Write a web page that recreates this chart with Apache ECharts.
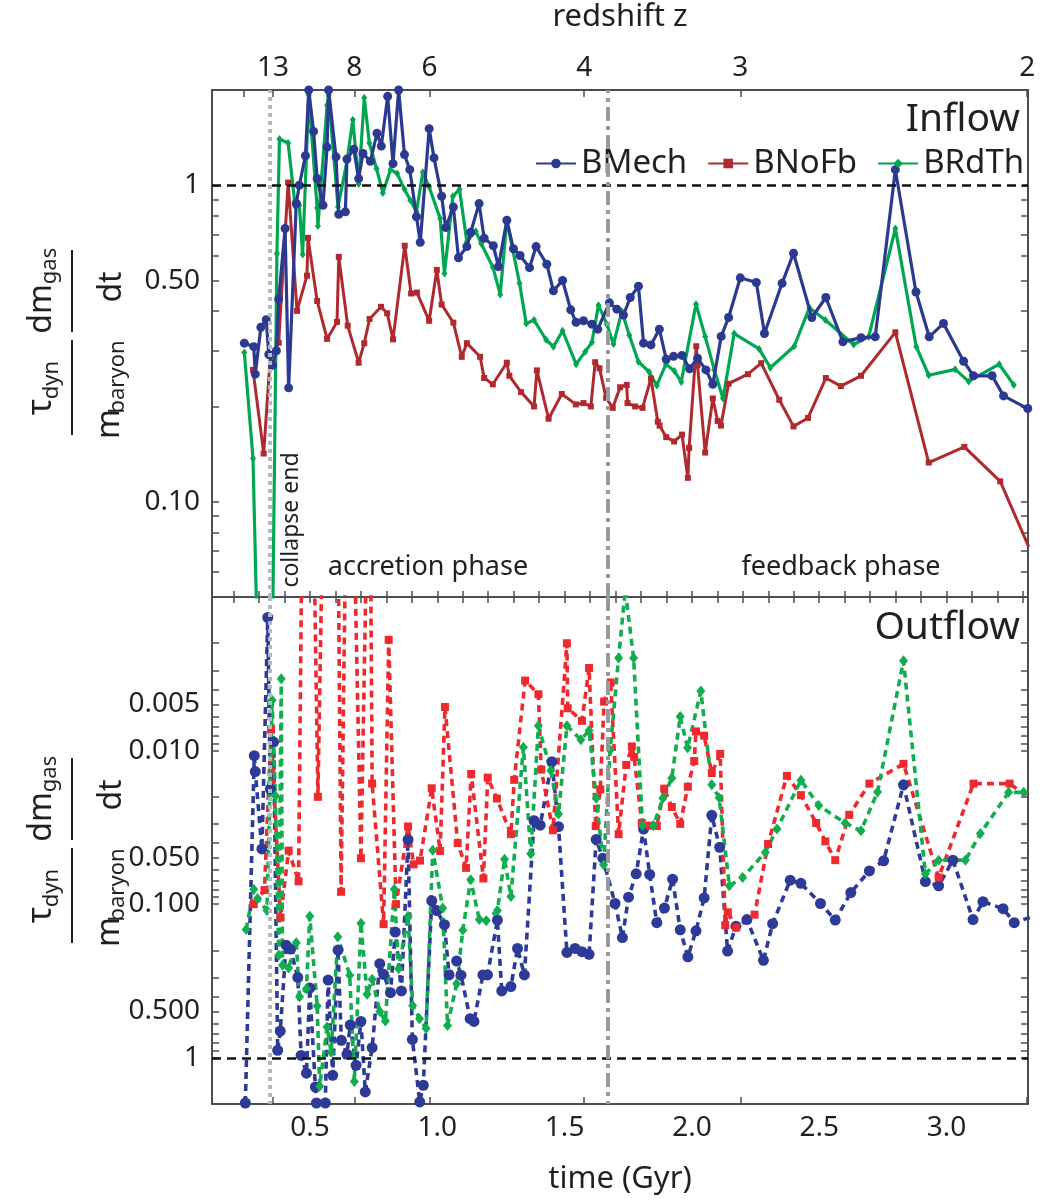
<!DOCTYPE html>
<html>
<head>
<meta charset="utf-8">
<script src="https://cdn.jsdelivr.net/npm/echarts@6/dist/echarts.min.js"></script>
<style>
html, body { margin: 0; padding: 0; background: #ffffff; }
#chart { width: 1046px; height: 1200px; }
</style>
</head>
<body>
<div id="chart"></div>
<script>
// ---- data: [time (Gyr), tau_dyn/m_baryon * dm_gas/dt] ----
const seriesNames = ['BMech', 'BNoFb', 'BRdTh'];

const inflowMech = [
  [0.242,0.317],[0.279,0.309],[0.285,0.253],[0.307,0.356],[0.328,0.376],[0.338,0.292],[0.353,0.270],[0.368,0.300],
  [0.377,0.437],[0.402,0.73],[0.416,0.229],[0.446,0.876],[0.458,1.0],[0.482,1.24],[0.495,2.0],[0.514,1.48],
  [0.528,1.05],[0.551,0.865],[0.567,1.32],[0.573,2.0],[0.602,1.23],[0.613,0.81],[0.639,0.824],[0.645,1.21],
  [0.672,1.30],[0.691,1.05],[0.708,1.26],[0.737,1.19],[0.763,1.46],[0.780,1.33],[0.805,1.91],[0.826,1.17],
  [0.848,2.0],[0.871,1.25],[0.892,1.12],[0.918,0.795],[0.933,0.66],[0.968,1.51],[0.987,1.22],[1.017,0.923],
  [1.033,0.735],[1.063,0.854],[1.083,0.59],[1.116,0.64],[1.131,0.71],[1.164,0.875],[1.184,0.68],[1.220,0.644],
  [1.240,0.553],[1.273,0.775],[1.299,0.63],[1.325,0.60],[1.362,0.549],[1.388,0.64],[1.430,0.563],[1.456,0.464],
  [1.492,0.50],[1.524,0.404],[1.545,0.369],[1.574,0.373],[1.607,0.364],[1.630,0.351],[1.676,0.425],[1.705,0.406],
  [1.731,0.389],[1.758,0.442],[1.790,0.48],[1.810,0.317],[1.839,0.313],[1.872,0.351],[1.899,0.282],[1.928,0.288],
  [1.961,0.29],[1.991,0.263],[2.022,0.284],[2.055,0.261],[2.082,0.235],[2.115,0.333],[2.144,0.382],[2.190,0.51],
  [2.253,0.493],[2.285,0.34],[2.354,0.49],[2.399,0.61],[2.471,0.382],[2.526,0.442],[2.593,0.32],[2.664,0.33],
  [2.720,0.332],[2.799,1.12],[2.880,0.46],[2.932,0.332],[2.988,0.366],[3.067,0.278],[3.106,0.25],[3.179,0.25],
  [3.224,0.216],[3.319,0.197]
];

const inflowNoFb = [
  [0.276,0.261],[0.318,0.142],[0.344,0.289],[0.377,0.318],[0.414,1.02],[0.449,0.401],[0.488,0.518],[0.492,0.682],
  [0.528,0.431],[0.567,0.327],[0.606,0.37],[0.613,0.594],[0.648,0.36],[0.691,0.275],[0.713,0.317],[0.734,0.378],
  [0.779,0.413],[0.803,0.394],[0.826,0.326],[0.872,0.644],[0.897,0.455],[0.920,0.458],[0.968,0.373],[0.998,0.54],
  [1.017,0.42],[1.063,0.368],[1.096,0.287],[1.116,0.317],[1.168,0.287],[1.184,0.246],[1.218,0.235],[1.273,0.275],
  [1.283,0.25],[1.329,0.222],[1.380,0.20],[1.391,0.26],[1.437,0.183],[1.489,0.219],[1.544,0.203],[1.574,0.205],
  [1.603,0.20],[1.620,0.276],[1.637,0.264],[1.663,0.213],[1.689,0.198],[1.718,0.23],[1.744,0.234],[1.747,0.205],
  [1.777,0.20],[1.806,0.198],[1.839,0.245],[1.866,0.179],[1.873,0.174],[1.899,0.16],[1.930,0.155],[1.961,0.163],
  [1.984,0.119],[1.989,0.148],[2.017,0.31],[2.022,0.27],[2.052,0.143],[2.082,0.212],[2.101,0.18],[2.114,0.174],
  [2.144,0.236],[2.220,0.253],[2.272,0.274],[2.343,0.21],[2.399,0.173],[2.456,0.184],[2.526,0.246],[2.585,0.232],
  [2.664,0.25],[2.799,0.343],[2.930,0.133],[3.070,0.149],[3.211,0.116],[3.323,0.072]
];

const inflowRdTh = [
  [0.242,0.296],[0.276,0.137],[0.333,0.0016],[0.370,0.609],[0.380,1.40],[0.414,1.36],[0.442,0.857],[0.458,0.865],
  [0.471,0.604],[0.495,1.93],[0.528,0.848],[0.531,0.744],[0.567,1.79],[0.573,1.92],[0.610,0.854],[0.645,1.19],
  [0.668,1.61],[0.691,1.01],[0.713,1.89],[0.733,1.36],[0.761,1.13],[0.786,0.946],[0.816,1.12],[0.842,1.09],
  [0.871,0.971],[0.894,0.897],[0.918,0.824],[0.943,1.10],[0.968,0.988],[1.011,0.785],[1.028,0.526],[1.061,0.923],
  [1.087,0.971],[1.116,0.663],[1.151,0.716],[1.172,0.655],[1.218,0.552],[1.247,0.452],[1.273,0.775],[1.323,0.49],
  [1.349,0.366],[1.380,0.375],[1.427,0.325],[1.456,0.309],[1.492,0.347],[1.545,0.272],[1.581,0.298],[1.607,0.319],
  [1.633,0.418],[1.666,0.364],[1.692,0.315],[1.725,0.40],[1.754,0.336],[1.790,0.277],[1.832,0.257],[1.862,0.233],
  [1.898,0.272],[1.931,0.259],[1.958,0.239],[2.016,0.421],[2.052,0.333],[2.088,0.261],[2.122,0.212],[2.166,0.34],
  [2.264,0.304],[2.308,0.265],[2.402,0.31],[2.461,0.41],[2.524,0.375],[2.635,0.314],[2.694,0.332],[2.799,0.73],
  [2.881,0.309],[2.930,0.251],[3.034,0.262],[3.087,0.24],[3.207,0.272],[3.264,0.234]
];

const outflowMech = [
  [0.246,1.97],[0.281,0.0108],[0.285,0.0137],[0.311,0.0437],[0.334,0.00136],[0.344,0.0178],[0.357,0.0088],[0.373,0.895],
  [0.383,0.67],[0.406,0.185],[0.423,0.196],[0.452,0.30],[0.465,0.965],[0.486,1.26],[0.499,0.352],[0.521,1.55],
  [0.525,1.97],[0.560,1.97],[0.571,0.312],[0.589,1.30],[0.610,0.199],[0.623,0.77],[0.645,0.95],[0.658,0.612],
  [0.681,1.12],[0.700,0.58],[0.717,1.67],[0.744,0.86],[0.774,0.244],[0.789,0.286],[0.816,0.377],[0.835,0.152],
  [0.859,0.367],[0.885,0.038],[0.902,0.76],[0.931,1.94],[0.945,1.51],[0.978,0.095],[0.998,0.11],[1.028,0.136],
  [1.046,0.289],[1.076,0.234],[1.093,0.29],[1.129,0.557],[1.144,0.58],[1.179,0.289],[1.197,0.289],[1.236,0.127],
  [1.253,0.367],[1.289,0.344],[1.315,0.194],[1.342,0.289],[1.380,0.0286],[1.404,0.0306],[1.450,0.0118],[1.476,0.0313],
  [1.509,0.206],[1.541,0.194],[1.568,0.204],[1.596,0.212],[1.624,0.0379],[1.650,0.0502],[1.698,0.099],[1.727,0.165],
  [1.751,0.09],[1.781,0.0634],[1.810,0.0324],[1.834,0.064],[1.862,0.132],[1.892,0.106],[1.924,0.0687],[1.954,0.147],
  [1.984,0.22],[2.016,0.149],[2.048,0.091],[2.078,0.0264],[2.109,0.0426],[2.140,0.202],[2.173,0.139],[2.216,0.126],
  [2.281,0.232],[2.317,0.134],[2.386,0.0698],[2.428,0.0732],[2.505,0.099],[2.563,0.127],[2.624,0.084],[2.697,0.0607],
  [2.753,0.0522],[2.831,0.0167],[2.917,0.0712],[2.969,0.076],[3.025,0.0517],[3.104,0.126],[3.143,0.0963],[3.222,0.107],
  [3.266,0.132],[3.327,0.122]
];

const outflowNoFb = [
  [0.279,0.1],[0.321,0.081],[0.347,0.0073],[0.384,0.122],[0.416,0.0448],[0.455,0.071],[0.469,0.0003],[0.514,0.0003],
  [0.531,0.02],[0.550,0.0003],[0.610,0.0003],[0.622,0.083],[0.641,0.0003],[0.672,0.0003],[0.700,0.0502],[0.724,0.0003],
  [0.737,0.0003],[0.744,0.0164],[0.789,0.135],[0.809,0.0019],[0.838,0.1],[0.885,0.0312],[0.907,0.055],[0.932,0.052],
  [0.978,0.0176],[1.011,0.045],[1.030,0.0052],[1.080,0.04],[1.113,0.058],[1.133,0.0142],[1.181,0.068],[1.198,0.015],
  [1.234,0.0205],[1.289,0.035],[1.302,0.0155],[1.345,0.0035],[1.397,0.0043],[1.408,0.0133],[1.454,0.033],[1.509,0.002],
  [1.512,0.0053],[1.568,0.0064],[1.596,0.0029],[1.622,0.031],[1.640,0.0179],[1.655,0.0048],[1.681,0.0036],[1.712,0.035],
  [1.742,0.0124],[1.764,0.0094],[1.773,0.011],[1.803,0.0296],[1.834,0.0308],[1.862,0.031],[1.891,0.0177],[1.921,0.0233],
  [1.954,0.030],[1.984,0.0172],[2.009,0.0117],[2.016,0.0075],[2.048,0.008],[2.078,0.014],[2.111,0.0105],[2.131,0.137],
  [2.141,0.113],[2.174,0.142],[2.246,0.117],[2.299,0.0406],[2.373,0.0146],[2.428,0.0195],[2.488,0.0296],[2.524,0.039],
  [2.563,0.0517],[2.618,0.0262],[2.697,0.0164],[2.831,0.0122],[2.969,0.067],[3.106,0.0164],[3.248,0.0164],[3.323,0.0201]
];

const outflowRdTh = [
  [0.249,0.146],[0.279,0.080],[0.294,0.092],[0.331,0.11],[0.351,0.0047],[0.364,0.0197],[0.377,0.215],[0.387,0.0034],
  [0.392,0.25],[0.416,0.26],[0.446,0.178],[0.459,0.40],[0.486,0.355],[0.499,0.12],[0.528,0.46],[0.538,1.53],
  [0.567,0.63],[0.583,0.92],[0.609,0.163],[0.656,0.29],[0.674,1.43],[0.700,0.133],[0.724,0.386],[0.744,0.308],
  [0.774,0.50],[0.796,0.577],[0.831,0.080],[0.848,0.263],[0.885,0.12],[0.903,0.456],[0.930,0.557],[0.956,0.644],
  [0.982,0.0445],[1.021,0.106],[1.040,0.616],[1.076,0.33],[1.100,0.148],[1.131,0.0694],[1.165,0.126],[1.192,0.128],
  [1.236,0.11],[1.264,0.051],[1.289,0.0892],[1.338,0.0095],[1.367,0.047],[1.397,0.0069],[1.446,0.0135],[1.476,0.0259],
  [1.509,0.0069],[1.564,0.0085],[1.596,0.0074],[1.624,0.0204],[1.653,0.0553],[1.679,0.0099],[1.712,0.0025],[1.738,0.0009],
  [1.771,0.0025],[1.806,0.0308],[1.849,0.0308],[1.886,0.0204],[1.921,0.0151],[1.954,0.006],[1.983,0.0096],[2.035,0.0041],
  [2.078,0.0167],[2.107,0.0203],[2.147,0.076],[2.199,0.067],[2.288,0.046],[2.334,0.0324],[2.428,0.0156],[2.498,0.0228],
  [2.602,0.0296],[2.664,0.0333],[2.729,0.0186],[2.831,0.0026],[2.917,0.0636],[2.969,0.0517],[3.074,0.0517],[3.133,0.0347],
  [3.244,0.0187],[3.303,0.0187]
];

// ---- axes: tick positions and labels ----
const timeRange = [0.115, 3.32];
const timeLabels = [0.5, 1.0, 1.5, 2.0, 2.5, 3.0];
const redshiftTimes = [0.241, 0.355, 0.674, 0.969, 1.577, 2.19, 3.317];
const redshiftLabelTimes = [0.355, 0.674, 0.969, 1.577, 2.19, 3.317];
const redshiftLabels = ['13', '8', '6', '4', '3', '2'];
const inflowRange = [0.05, 2];
const inflowLabelValues = [0.1, 0.5, 1];
const inflowLabelTexts = ['0.10', '0.50', '1'];
const outflowRange = [0.001, 2];
const outflowLabelValues = [0.005, 0.01, 0.05, 0.1, 0.5, 1];
const outflowLabelTexts = ['0.005', '0.010', '0.050', '0.100', '0.500', '1'];
const collapseEndTime = 0.340;
const phaseSplitTime = 1.666;

// minor tick positions: every 0.1 Gyr, and 1..9 within each decade
const timeMinor = [];
for (let k = 2; k <= 33; k++) timeMinor.push(+(k / 10).toFixed(1));
function decadeTicks(lo, hi) {
  const out = [];
  for (let e = -4; e <= 1; e++) {
    for (let m = 1; m <= 9; m++) {
      const v = +(m * Math.pow(10, e)).toPrecision(3);
      if (v >= lo * 0.999 && v <= hi * 1.001) out.push(v);
    }
  }
  return out;
}
const inflowTicks = decadeTicks(inflowRange[0], inflowRange[1]);
const outflowTicks = decadeTicks(outflowRange[0], outflowRange[1]);

function lookup(values, texts) {
  return function (v) {
    let best = 0, bestD = Infinity;
    values.forEach(function (x, i) {
      const d = Math.abs(Math.log(v) - Math.log(x));
      if (d < bestD) { bestD = d; best = i; }
    });
    return texts[best];
  };
}
function lookupLinear(values, texts) {
  return function (v) {
    let best = 0, bestD = Infinity;
    values.forEach(function (x, i) {
      const d = Math.abs(v - x);
      if (d < bestD) { bestD = d; best = i; }
    });
    return texts[best];
  };
}

const FONT = 'Noto Sans';
const TXT = '#231f20';
const FRAME = '#4d4d4d';
const COLORS = {
  mech: '#2b3990', noFb: '#b0292e', rdTh: '#00a651',
  mechOut: '#2e3a97', noFbOut: '#ee2a2e', rdThOut: '#11ad4f'
};

const frameLine = { show: true, lineStyle: { color: FRAME, width: 2 } };
function tickStyle(values, len) {
  return { show: true, inside: true, length: len, customValues: values, lineStyle: { color: FRAME, width: 1.5 } };
}

const chart = echarts.init(document.getElementById('chart'), null, { renderer: 'canvas' });

const refLines = [
  { yAxis: 1, lineStyle: { color: '#111', width: 2.5, type: [9, 6] } },
  { xAxis: collapseEndTime, lineStyle: { color: '#b0b9c5', width: 4, type: [4, 4] } },
  { xAxis: phaseSplitTime, lineStyle: { color: '#9a9a9c', width: 4, type: [14, 5, 4, 5] } }
];

const option = {
  animation: false,
  backgroundColor: '#ffffff',
  textStyle: { fontFamily: FONT, color: TXT },
  grid: [
    { left: 212, right: 18, top: 90, height: 507 },
    { left: 212, right: 18, top: 597, height: 507 }
  ],
  legend: {
    data: seriesNames,
    left: 530, top: 142,
    itemWidth: 40, itemHeight: 12, itemGap: 20,
    textStyle: { fontFamily: FONT, fontSize: 33, color: TXT },
    selectedMode: false
  },
  xAxis: [
    { gridIndex: 0, type: 'value', position: 'bottom', min: timeRange[0], max: timeRange[1],
      axisLine: frameLine, axisTick: tickStyle(timeMinor, 6), axisLabel: { show: false }, splitLine: { show: false } },
    { gridIndex: 0, type: 'value', position: 'top', min: timeRange[0], max: timeRange[1],
      axisLine: frameLine, axisTick: tickStyle(redshiftTimes, 7),
      axisLabel: { show: true, customValues: redshiftLabelTimes, formatter: lookupLinear(redshiftLabelTimes, redshiftLabels),
        fontFamily: FONT, fontSize: 28, color: TXT, margin: 8 },
      name: 'redshift z', nameLocation: 'middle', nameGap: 57,
      nameTextStyle: { fontFamily: FONT, fontSize: 31, color: TXT },
      splitLine: { show: false } },
    { gridIndex: 1, type: 'value', position: 'bottom', min: timeRange[0], max: timeRange[1],
      axisLine: frameLine, axisTick: tickStyle(redshiftTimes, 7),
      axisLabel: { show: true, customValues: timeLabels, formatter: function (v) { return v.toFixed(1); },
        fontFamily: FONT, fontSize: 28, color: TXT, margin: 10 },
      name: 'time (Gyr)', nameLocation: 'middle', nameGap: 60,
      nameTextStyle: { fontFamily: FONT, fontSize: 31, color: TXT },
      splitLine: { show: false } },
    { gridIndex: 1, type: 'value', position: 'top', min: timeRange[0], max: timeRange[1],
      axisLine: frameLine, axisTick: tickStyle(timeMinor, 6), axisLabel: { show: false }, splitLine: { show: false } }
  ],
  yAxis: [
    { gridIndex: 0, type: 'log', logBase: 10, position: 'left', min: inflowRange[0], max: inflowRange[1],
      axisLine: frameLine, axisTick: tickStyle(inflowTicks, 7),
      axisLabel: { show: true, customValues: inflowLabelValues, formatter: lookup(inflowLabelValues, inflowLabelTexts),
        fontFamily: FONT, fontSize: 28, color: TXT, margin: 12 },
      splitLine: { show: false } },
    { gridIndex: 0, type: 'log', logBase: 10, position: 'right', min: inflowRange[0], max: inflowRange[1],
      axisLine: frameLine, axisTick: tickStyle(inflowTicks, 7), axisLabel: { show: false }, splitLine: { show: false } },
    { gridIndex: 1, type: 'log', logBase: 10, position: 'left', inverse: true, min: outflowRange[0], max: outflowRange[1],
      axisLine: frameLine, axisTick: tickStyle(outflowTicks, 7),
      axisLabel: { show: true, customValues: outflowLabelValues, formatter: lookup(outflowLabelValues, outflowLabelTexts),
        fontFamily: FONT, fontSize: 28, color: TXT, margin: 12 },
      splitLine: { show: false } },
    { gridIndex: 1, type: 'log', logBase: 10, position: 'right', inverse: true, min: outflowRange[0], max: outflowRange[1],
      axisLine: frameLine, axisTick: tickStyle(outflowTicks, 7), axisLabel: { show: false }, splitLine: { show: false } }
  ],
  series: [
    { name: seriesNames[0], type: 'line', xAxisIndex: 0, yAxisIndex: 0, data: inflowMech, z: 3,
      symbol: 'circle', symbolSize: 9, showAllSymbol: true,
      lineStyle: { color: COLORS.mech, width: 3.2 }, itemStyle: { color: COLORS.mech },
      markLine: { silent: true, symbol: 'none', label: { show: false }, animation: false, data: refLines } },
    { name: seriesNames[1], type: 'line', xAxisIndex: 0, yAxisIndex: 0, data: inflowNoFb, z: 2,
      symbol: 'rect', symbolSize: 6, showAllSymbol: true,
      lineStyle: { color: COLORS.noFb, width: 3 }, itemStyle: { color: COLORS.noFb } },
    { name: seriesNames[2], type: 'line', xAxisIndex: 0, yAxisIndex: 0, data: inflowRdTh, z: 2,
      symbol: 'diamond', symbolSize: [6, 8], showAllSymbol: true,
      lineStyle: { color: COLORS.rdTh, width: 3.2 }, itemStyle: { color: COLORS.rdTh } },

    { name: seriesNames[0], type: 'line', xAxisIndex: 2, yAxisIndex: 2, data: outflowMech, z: 2,
      symbol: 'circle', symbolSize: 11, showAllSymbol: true,
      lineStyle: { color: COLORS.mechOut, width: 3.6, type: [7, 5] }, itemStyle: { color: COLORS.mechOut },
      markLine: { silent: true, symbol: 'none', label: { show: false }, animation: false, data: refLines } },
    { name: seriesNames[1], type: 'line', xAxisIndex: 2, yAxisIndex: 2, data: outflowNoFb, z: 2,
      symbol: 'rect', symbolSize: 8, showAllSymbol: true,
      lineStyle: { color: COLORS.noFbOut, width: 3.6, type: [7, 5] }, itemStyle: { color: COLORS.noFbOut } },
    { name: seriesNames[2], type: 'line', xAxisIndex: 2, yAxisIndex: 2, data: outflowRdTh, z: 2,
      symbol: 'diamond', symbolSize: [9, 11], showAllSymbol: true,
      lineStyle: { color: COLORS.rdThOut, width: 3.6, type: [7, 5] }, itemStyle: { color: COLORS.rdThOut } }
  ]
};

// y-axis title: (tau_dyn / m_baryon) (dm_gas / dt), set vertically
function yTitle(dy) {
  const R = Math.PI / 2;
  function t(str, x, y, size) {
    return { type: 'text', x: x, y: y + dy, rotation: R, silent: true,
      style: { text: str, fontFamily: FONT, fontSize: size, fill: TXT, align: 'center', verticalAlign: 'middle' } };
  }
  function bar(y1, y2) {
    return { type: 'line', silent: true, shape: { x1: 72, y1: y1 + dy, x2: 72, y2: y2 + dy },
      style: { stroke: TXT, lineWidth: 2 } };
  }
  return [
    t('dm', 42, 309, 32), t('gas', 50, 266, 22), bar(250, 332),
    t('dt', 112, 287, 32),
    t('\u03c4', 41, 407, 34), t('dyn', 52, 380, 22), bar(340, 435),
    t('m', 110, 424, 32), t('baryon', 118, 377, 22)
  ];
}

option.graphic = [].concat(
  yTitle(0),
  yTitle(508),
  [
    { type: 'text', x: 1020, y: 120, silent: true,
      style: { text: 'Inflow', fontFamily: FONT, fontSize: 39, fill: TXT, align: 'right', verticalAlign: 'middle' } },
    { type: 'text', x: 1020, y: 628, silent: true,
      style: { text: 'Outflow', fontFamily: FONT, fontSize: 39, fill: TXT, align: 'right', verticalAlign: 'middle' } },
    { type: 'text', x: 428, y: 567, silent: true,
      style: { text: 'accretion phase', fontFamily: FONT, fontSize: 27, fill: TXT, align: 'center', verticalAlign: 'middle' } },
    { type: 'text', x: 841, y: 567, silent: true,
      style: { text: 'feedback phase', fontFamily: FONT, fontSize: 27, fill: TXT, align: 'center', verticalAlign: 'middle' } },
    { type: 'text', x: 291, y: 520, rotation: Math.PI / 2, silent: true,
      style: { text: 'collapse end', fontFamily: FONT, fontSize: 23, fill: TXT, align: 'center', verticalAlign: 'middle' } }
  ]
);

chart.setOption(option);
</script>
</body>
</html>
